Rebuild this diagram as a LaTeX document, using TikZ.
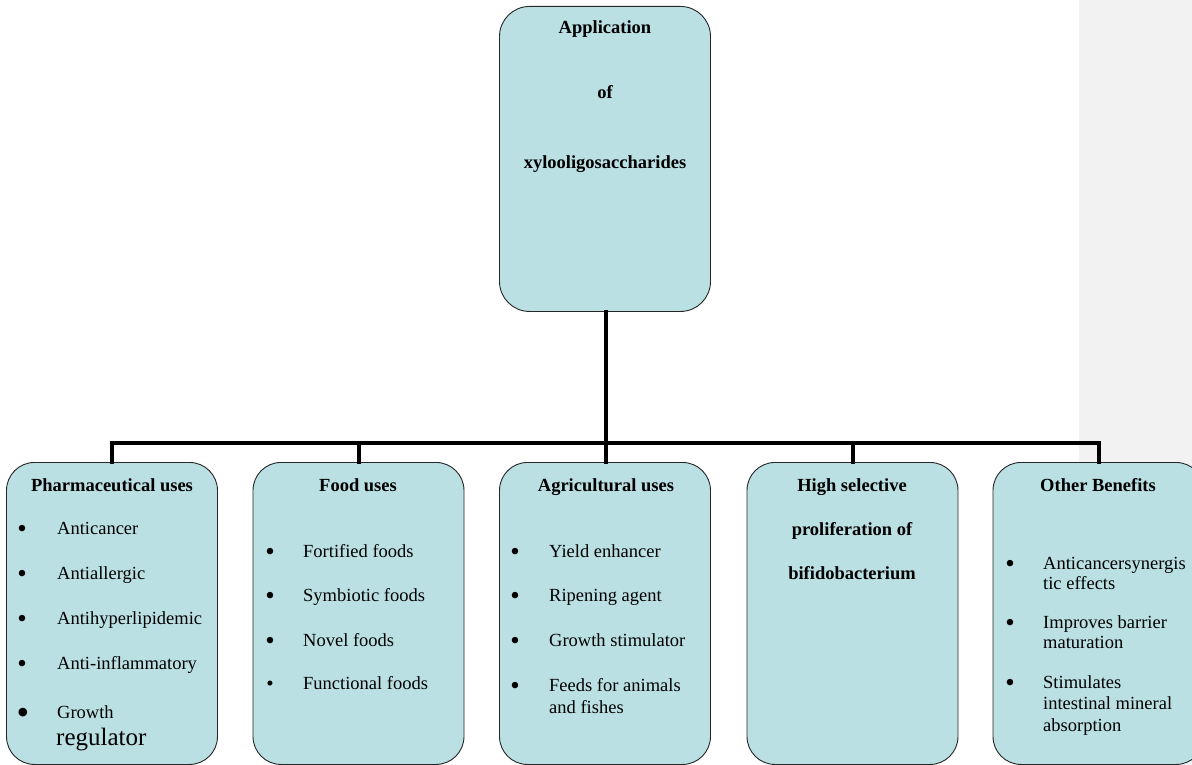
\documentclass[tikz,border=0pt]{standalone}
\usepackage{fontspec}
\setmainfont{Liberation Serif}
\definecolor{boxfill}{RGB}{186,224,228}
\definecolor{margin}{RGB}{242,242,242}
\begin{document}
\begin{tikzpicture}[x=1pt,y=-1pt,
  box/.style={draw=black!85,line width=0.9pt,fill=boxfill,rounded corners=28pt,
    minimum width=211pt,minimum height=302pt,anchor=north,inner sep=0pt},
  conn/.style={line width=4pt,line join=miter,line cap=rect},
  ttl/.style={anchor=base,font=\fontsize{18.5}{21}\selectfont\bfseries,inner sep=0pt},
  itm/.style={anchor=base west,font=\fontsize{18.5}{21}\selectfont,inner sep=0pt},
  bul/.style={anchor=base,font=\fontsize{27}{27}\selectfont,inner sep=0pt}]
\useasboundingbox (0,0) rectangle (1192,765);
\clip (0,0) rectangle (1192,765);
\fill[white] (0,0) rectangle (1192,765);
\fill[margin] (1079,0) rectangle (1192,765);

% top node
\node[box,minimum height=305pt,rounded corners=30pt] (top) at (605,6) {};
\node[ttl] (t1) at (605,34) {Application};
\node[ttl] (t2) at (605,99) {of};
\node[ttl] (t3) at (605,168) {xylooligosaccharides};

% bottom boxes
\node[box] (b1) at (112,462) {};
\node[box] (b2) at (358.5,462) {};
\node[box] (b3) at (605,462) {};
\node[box] (b4) at (852.5,462) {};
\node[box] (b5) at (1098.5,462) {};

% connectors
\coordinate (bar) at (606,443);
\draw[conn] (top.south -| bar) -- (bar);
\draw[conn] (b1.north) -- (b1.north |- bar) -- (b5.north |- bar) -- (b5.north);
\draw[conn] (b2.north |- bar) -- (b2.north);
\draw[conn] (b3.north -| bar) -- (bar);
\draw[conn] (b4.north |- bar) -- (b4.north);

% box 1
\node[ttl] (h1) at (112,491) {Pharmaceutical uses};
\node[bul] (p1b) at (22,537.5) {\textbullet};
\node[itm] (p1) at (57,534) {Anticancer};
\node[bul] (p2b) at (22,582.5) {\textbullet};
\node[itm] (p2) at (57,579) {Antiallergic};
\node[bul] (p3b) at (22,627.5) {\textbullet};
\node[itm] (p3) at (57,624) {Antihyperlipidemic};
\node[bul] (p4b) at (22,672.5) {\textbullet};
\node[itm] (p4) at (57,669) {Anti-inflammatory};
\node[bul,font=\fontsize{36}{36}\selectfont] (p5b) at (23,724) {\textbullet};
\node[itm] (p5) at (57,718) {Growth};
\node[itm,font=\fontsize{25}{25}\selectfont] (p6) at (56,745) {regulator};

% box 2
\node[ttl] (h2) at (358,491) {Food uses};
\node[bul] (f1b) at (270,560.5) {\textbullet};
\node[itm] (f1) at (303,557) {Fortified foods};
\node[bul] (f2b) at (270,604.5) {\textbullet};
\node[itm] (f2) at (303,601) {Symbiotic foods};
\node[bul] (f3b) at (270,649.5) {\textbullet};
\node[itm] (f3) at (303,646) {Novel foods};
\node[bul,font=\fontsize{21}{21}\selectfont] (f4b) at (270,690) {\textbullet};
\node[itm] (f4) at (303,689) {Functional foods};

% box 3
\node[ttl] (h3) at (606,491) {Agricultural uses};
\node[bul] (a1b) at (515,560.5) {\textbullet};
\node[itm] (a1) at (549,557) {Yield enhancer};
\node[bul] (a2b) at (515,604.5) {\textbullet};
\node[itm] (a2) at (549,601) {Ripening agent};
\node[bul] (a3b) at (515,649.5) {\textbullet};
\node[itm] (a3) at (549,646) {Growth stimulator};
\node[bul] (a4b) at (515,694.5) {\textbullet};
\node[itm] (a4) at (549,691) {Feeds for animals};
\node[itm] (a5) at (549,713) {and fishes};

% box 4
\node[ttl] (h4a) at (852,491) {High selective};
\node[ttl] (h4b) at (852,535) {proliferation of};
\node[ttl] (h4c) at (852,579) {bifidobacterium};

% box 5
\node[ttl] (h5) at (1098,491) {Other Benefits};
\node[bul] (o1b) at (1010,572.5) {\textbullet};
\node[itm] (o1) at (1043,569) {Anticancersynergis};
\node[itm] (o2) at (1043,589) {tic effects};
\node[bul] (o3b) at (1010,631.5) {\textbullet};
\node[itm] (o3) at (1043,628) {Improves barrier};
\node[itm] (o4) at (1043,648) {maturation};
\node[bul] (o5b) at (1010,691.5) {\textbullet};
\node[itm] (o5) at (1043,688) {Stimulates};
\node[itm] (o6) at (1043,709) {intestinal mineral};
\node[itm] (o7) at (1043,731) {absorption};
\end{tikzpicture}
\end{document}
